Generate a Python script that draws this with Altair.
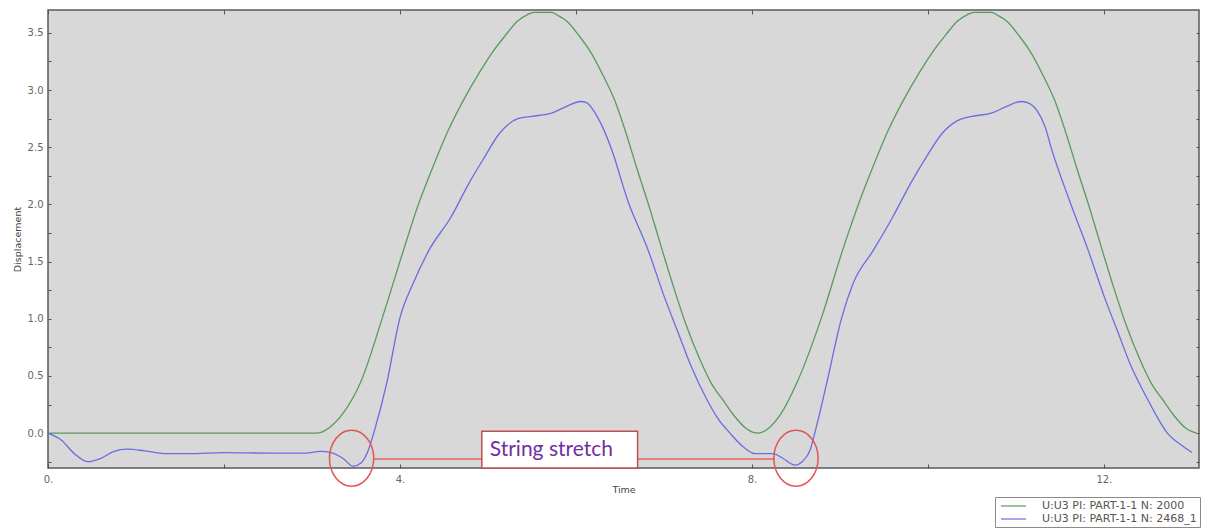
import altair as alt
import pandas as pd

# U3 displacement histories of the two monitored nodes
green_t = [0.0, 3.05, 3.2, 3.35, 3.55, 3.8, 4.04, 4.2, 4.36, 4.55,
           4.72, 4.9, 5.06, 5.2, 5.33, 5.45, 5.52, 5.72, 5.8, 5.9,
           6.03, 6.16, 6.3, 6.44, 6.57, 6.69, 6.84, 6.98, 7.12, 7.25,
           7.4, 7.55, 7.67, 7.8, 7.92, 8.07, 8.2, 8.33, 8.51, 8.79,
           9.03, 9.2, 9.36, 9.55, 9.72, 9.9, 10.06, 10.2, 10.33, 10.45,
           10.52, 10.72, 10.8, 10.9, 11.03, 11.16, 11.3, 11.44, 11.57, 11.69,
           11.84, 11.98, 12.12, 12.25, 12.4, 12.55, 12.67, 12.8, 12.92, 13.05]
green_v = [0.0, 0.0, 0.05, 0.17, 0.44, 1.01, 1.6, 1.98, 2.3, 2.65,
           2.91, 3.15, 3.34, 3.48, 3.6, 3.66, 3.68, 3.68, 3.65, 3.6,
           3.48, 3.34, 3.14, 2.91, 2.62, 2.32, 1.96, 1.6, 1.25, 0.95,
           0.66, 0.42, 0.29, 0.15, 0.05, 0.0, 0.05, 0.17, 0.44, 1.01,
           1.6, 1.98, 2.3, 2.65, 2.91, 3.15, 3.34, 3.48, 3.6, 3.66,
           3.68, 3.68, 3.65, 3.6, 3.48, 3.34, 3.14, 2.91, 2.62, 2.32,
           1.96, 1.6, 1.25, 0.95, 0.66, 0.42, 0.29, 0.15, 0.05, 0.0]

blue_t = [0.0, 0.15, 0.3, 0.45, 0.6, 0.75, 0.9, 1.1, 1.35, 1.6,
          2.0, 2.5, 2.9, 3.1, 3.22, 3.35, 3.47, 3.56, 3.64, 3.72,
          3.85, 4.0, 4.15, 4.33, 4.58, 4.78, 4.95, 5.13, 5.34, 5.5,
          5.73, 5.9, 6.05, 6.12, 6.2, 6.3, 6.41, 6.59, 6.82, 7.0,
          7.15, 7.3, 7.49, 7.62, 7.75, 7.9, 8.03, 8.24, 8.35, 8.49,
          8.57, 8.66, 8.73, 8.85, 9.02, 9.15, 9.38, 9.6, 9.8, 9.97,
          10.16, 10.33, 10.5, 10.73, 10.9, 11.06, 11.13, 11.24, 11.33, 11.41,
          11.61, 11.82, 12.0, 12.15, 12.3, 12.5, 12.62, 12.72, 12.87, 13.0]
blue_v = [0.0, -0.06, -0.18, -0.25, -0.22, -0.16, -0.14, -0.155, -0.18, -0.18,
          -0.17, -0.175, -0.175, -0.16, -0.17, -0.22, -0.29, -0.26, -0.15, 0.05,
          0.44, 1.01, 1.31, 1.6, 1.89, 2.18, 2.4, 2.62, 2.75, 2.77,
          2.8, 2.86, 2.9, 2.89, 2.82, 2.68, 2.47, 2.03, 1.6, 1.2,
          0.9, 0.6, 0.29, 0.12, 0.0, -0.12, -0.18, -0.18, -0.22, -0.28,
          -0.25, -0.15, 0.05, 0.44, 1.01, 1.31, 1.6, 1.89, 2.18, 2.4,
          2.62, 2.73, 2.77, 2.8, 2.86, 2.9, 2.89, 2.82, 2.68, 2.47,
          2.03, 1.6, 1.2, 0.9, 0.6, 0.29, 0.12, 0.0, -0.1, -0.17]

series_names = ["U:U3 PI: PART-1-1 N: 2000", "U:U3 PI: PART-1-1 N: 2468_1"]
series_colors = ["#5a9a5a", "#6b6be2"]

x_ticks = [0, 2, 4, 6, 8, 10, 12]
y_ticks = [-0.25, 0.0, 0.25, 0.5, 0.75, 1.0, 1.25, 1.5, 1.75, 2.0,
           2.25, 2.5, 2.75, 3.0, 3.25, 3.5]

# "String stretch" callout: two rings, a connector and a labelled box
ring_t = [3.45, 8.5]
ring_v = [-0.22, -0.22]
link_t = [3.70]
link_t2 = [8.25]
link_v = [-0.227]
box_t = [4.93]
box_t2 = [6.70]
box_v = [0.017]
box_v2 = [-0.305]
note_t = [5.02]
note_v = [-0.15]
note_text = ["String stretch"]

curves = pd.concat([
    pd.DataFrame({"t": green_t, "v": green_v, "series": series_names[0]}),
    pd.DataFrame({"t": blue_t, "v": blue_v, "series": series_names[1]}),
])
rings = pd.DataFrame({"t": ring_t, "v": ring_v})
link = pd.DataFrame({"t": link_t, "t2": link_t2, "v": link_v})
box = pd.DataFrame({"t": box_t, "t2": box_t2, "v": box_v, "v2": box_v2})
note = pd.DataFrame({"t": note_t, "v": note_v, "text": note_text})

x_scale = alt.Scale(domain=[0, 13.08], nice=False, zero=False)
y_scale = alt.Scale(domain=[-0.305, 3.70], nice=False, zero=False)

lines = alt.Chart(curves).mark_line(strokeWidth=1.3, interpolate="monotone").encode(
    x=alt.X("t:Q", scale=x_scale, axis=alt.Axis(
        values=x_ticks,
        labelExpr="datum.value % 4 === 0 ? datum.value + '.' : ''",
        title="Time", domain=False, grid=False, tickSize=4, offset=-4,
        labelPadding=6, labelFlush=False, titlePadding=0,
        labelFontSize=10, titleFontSize=9.5, titleFontWeight="normal")),
    y=alt.Y("v:Q", scale=y_scale, axis=alt.Axis(
        values=y_ticks,
        labelExpr="datum.value % 0.5 === 0 ? format(datum.value, '.1f') : ''",
        title="Displacement", domain=False, grid=False, tickSize=3, offset=-3,
        labelPadding=5, titlePadding=5,
        labelFontSize=10, titleFontSize=9.5, titleFontWeight="normal")),
    color=alt.Color("series:N",
                    scale=alt.Scale(domain=series_names, range=series_colors),
                    legend=alt.Legend(
                        orient="none", legendX=947, legendY=487, title=None,
                        symbolType="M -0.6 0 L 4.4 0", symbolSize=100,
                        symbolStrokeWidth=1.2, labelOffset=32,
                        labelFont="DejaVu Sans", labelFontSize=11,
                        labelColor="#555555", strokeColor="#8a8a8a",
                        fillColor="white", padding=3, rowPadding=2)),
)

# invisible layer that carries the tick-only top and right axes
frame = alt.Chart(rings).mark_point(opacity=0).encode(
    x=alt.X("t:Q", scale=x_scale, axis=alt.Axis(
        orient="top", values=x_ticks, labels=False, title=None,
        domain=False, grid=False, tickSize=4, offset=-4)),
    y=alt.Y("v:Q", scale=y_scale, axis=alt.Axis(
        orient="right", values=y_ticks, labels=False, title=None,
        domain=False, grid=False, tickSize=3, offset=-3)),
)

connector = alt.Chart(link).mark_rule(color="#e06666", strokeWidth=1.5).encode(
    x=alt.X("t:Q", scale=x_scale, axis=None),
    x2="t2:Q",
    y=alt.Y("v:Q", scale=y_scale, axis=None),
)

callout_box = alt.Chart(box).mark_rect(fill="white", stroke="#c0504d", strokeWidth=1.5).encode(
    x=alt.X("t:Q", scale=x_scale, axis=None),
    x2="t2:Q",
    y=alt.Y("v:Q", scale=y_scale, axis=None),
    y2="v2:Q",
)

callout_text = alt.Chart(note).mark_text(
    align="left", baseline="middle", font="Lato", fontSize=21, color="#7030a0"
).encode(
    x=alt.X("t:Q", scale=x_scale, axis=None),
    y=alt.Y("v:Q", scale=y_scale, axis=None),
    text="text:N",
)

ring_marks = alt.Chart(rings).mark_point(
    shape="M -0.79 0 A 0.79 1 0 1 1 0.79 0 A 0.79 1 0 1 1 -0.79 0 Z",
    size=3136, filled=False, color="#e05555", strokeWidth=1.5, opacity=1,
).encode(
    x=alt.X("t:Q", scale=x_scale, axis=None),
    y=alt.Y("v:Q", scale=y_scale, axis=None),
)

chart = alt.layer(
    lines, frame, connector, callout_box, callout_text, ring_marks
).resolve_axis(
    x="independent", y="independent"
).properties(
    width=1151, height=458,
    autosize=alt.AutoSizeParams(type="none"),
    padding={"left": 48, "top": 10, "right": 11, "bottom": 60},
    background="white",
).configure_view(
    fill="#d8d8d8", stroke="#5a5a5a", strokeWidth=1.5,
).configure_axis(
    labelFont="DejaVu Sans", titleFont="DejaVu Sans",
    labelColor="#666666", tickColor="#555555", titleColor="#444444",
)

chart.save("out.html", embed_options={"renderer": "svg", "actions": False})
